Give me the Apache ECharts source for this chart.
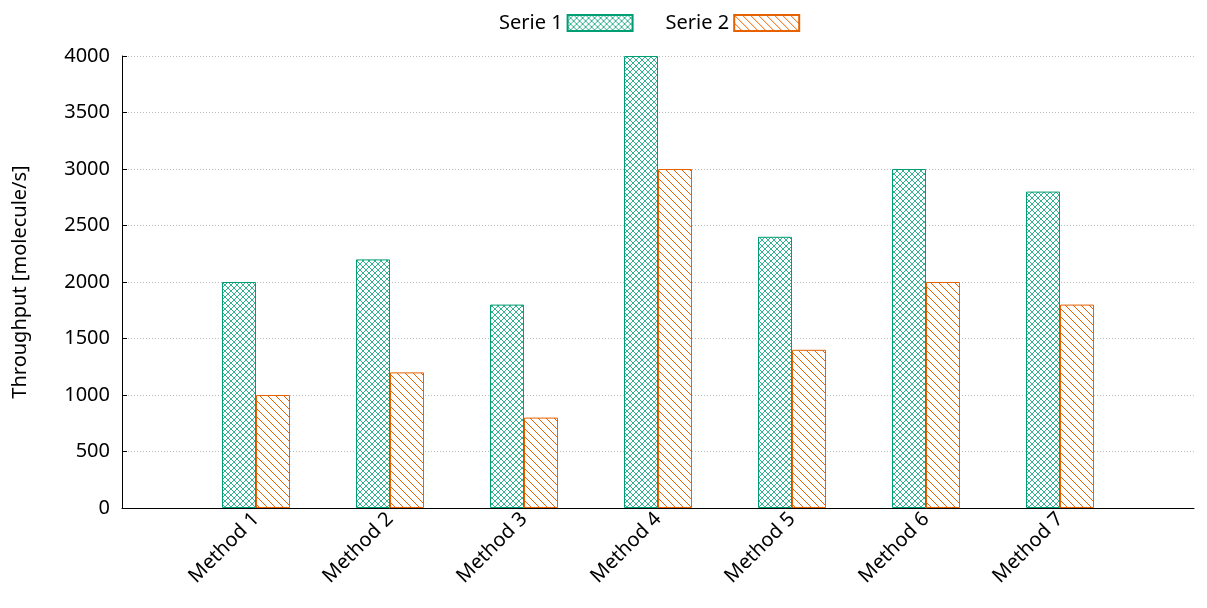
<!DOCTYPE html>
<html>
<head>
<meta charset="utf-8">
<script src="https://cdn.jsdelivr.net/npm/echarts@6/dist/echarts.min.js"></script>
<style>html,body{margin:0;padding:0;background:#fff}#chart{width:1207px;height:608px}</style>
</head>
<body>
<div id="chart"></div>
<script>
// categories, padded with an empty slot on each side
var methods = ['', 'Method 1', 'Method 2', 'Method 3', 'Method 4', 'Method 5', 'Method 6', 'Method 7', ''];
var serie1 = [null, 2000, 2200, 1800, 4000, 2400, 3000, 2800, null];
var serie2 = [null, 1000, 1200, 800, 3000, 1400, 2000, 1800, null];

var green = '#009e73';
var orange = '#e66100';

// crosshatch for serie 1
function crossPattern() {
    var c = document.createElement('canvas');
    c.width = 6; c.height = 6;
    var g = c.getContext('2d');
    g.fillStyle = '#fff'; g.fillRect(0, 0, 6, 6);
    g.strokeStyle = green; g.lineWidth = 0.8;
    g.beginPath();
    g.moveTo(0, 0); g.lineTo(6, 6);
    g.moveTo(6, 0); g.lineTo(0, 6);
    g.stroke();
    return c;
}
// diagonal lines for serie 2
function diagPattern() {
    var c = document.createElement('canvas');
    c.width = 8; c.height = 8;
    var g = c.getContext('2d');
    g.fillStyle = '#fff'; g.fillRect(0, 0, 8, 8);
    g.strokeStyle = orange; g.lineWidth = 1;
    g.beginPath();
    g.moveTo(0, 0); g.lineTo(8, 8);
    g.moveTo(-4, 4); g.lineTo(4, 12);
    g.moveTo(4, -4); g.lineTo(12, 4);
    g.stroke();
    return c;
}

var fnt = 'Noto Sans';
var myChart = echarts.init(document.getElementById('chart'));
var option = {
    animation: false,
    textStyle: { fontFamily: fnt },
    legend: {
        top: 8, left: 494,
        align: 'right',
        icon: 'rect',
        itemWidth: 65, itemHeight: 16, itemGap: 32,
        textStyle: { fontSize: 20, color: '#000', fontFamily: fnt },
        data: ['Serie 1', 'Serie 2']
    },
    grid: { left: 122, right: 13, top: 56, bottom: 100 },
    xAxis: {
        type: 'category',
        boundaryGap: false,
        data: methods,
        axisLine: { lineStyle: { color: '#000' } },
        axisTick: { inside: true, lineStyle: { color: '#000' }, interval: function (i) { return i > 0 && i < 8; } },
        axisLabel: { rotate: 45, fontSize: 20, color: '#000', interval: 0, margin: 8, fontFamily: fnt },
        splitLine: { show: false }
    },
    yAxis: {
        type: 'value',
        min: 0, max: 4000, interval: 500,
        name: 'Throughput [molecule/s]',
        nameLocation: 'center', nameGap: 92,
        nameTextStyle: { fontSize: 20, color: '#000', fontFamily: fnt },
        axisLine: { show: true, lineStyle: { color: '#000' } },
        axisTick: { show: true, inside: true, lineStyle: { color: '#000' } },
        axisLabel: { fontSize: 20, color: '#000', margin: 12, fontFamily: fnt, formatter: function (v) { return String(v); } },
        splitLine: { lineStyle: { color: '#bbb', type: [1, 2] } }
    },
    series: [{
        name: 'Serie 1',
        type: 'bar',
        data: serie1,
        barWidth: 34,
        barGap: '0%',
        itemStyle: { color: { image: crossPattern(), repeat: 'repeat' }, borderColor: green, borderWidth: 1 }
    }, {
        name: 'Serie 2',
        type: 'bar',
        data: serie2,
        barWidth: 34,
        itemStyle: { color: { image: diagPattern(), repeat: 'repeat' }, borderColor: orange, borderWidth: 1 }
    }]
};
myChart.setOption(option);
window.onresize = myChart.resize;
</script>
</body>
</html>
